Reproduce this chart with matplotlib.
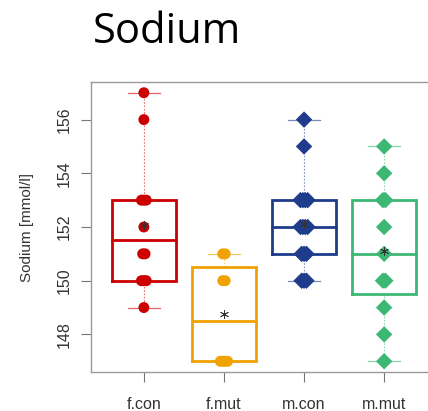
import matplotlib
matplotlib.use("Agg")
import matplotlib.pyplot as plt
import numpy as np
from collections import Counter

groups = ["f.con", "f.mut", "m.con", "m.mut"]
values = {
    "f.con": [149, 150, 150, 150, 151, 151, 152, 153, 153, 153, 156, 157],
    "f.mut": [147, 147, 147, 147, 150, 150, 151, 151],
    "m.con": [150, 150, 150, 151, 151, 151, 152, 152, 152, 152, 153, 153, 153, 153, 155, 156],
    "m.mut": [147, 148, 149, 150, 150, 151, 152, 153, 153, 154, 155],
}
colors = ["#CC0000", "#F0A202", "#1F3C8C", "#3DB874"]
markers = ["o", "o", "D", "D"]
yticks = [148, 150, 152, 154, 156]

DPI = 100
fig = plt.figure(figsize=(4.28, 4.11), dpi=DPI)
W, H = 428, 411
ax_l, ax_r, ax_t, ax_b = 91, 437, 82, 372
ax = fig.add_axes([ax_l / W, 1 - ax_b / H, (ax_r - ax_l) / W, (ax_b - ax_t) / H])

def fivenum(x):
    x = np.sort(np.asarray(x, float))
    n = len(x)
    n4 = np.floor((n + 3) / 2) / 2
    d = np.array([1, n4, (n + 1) / 2, n + 1 - n4, n])
    return 0.5 * (x[np.floor(d).astype(int) - 1] + x[np.ceil(d).astype(int) - 1])

bw = 0.8
for i, g in enumerate(groups):
    pos = i + 1
    c = colors[i]
    v = np.array(values[g])
    mn, q1, med, q3, mx = fivenum(v)
    iqr = q3 - q1
    lo = v[v >= q1 - 1.5 * iqr].min()
    hi = v[v <= q3 + 1.5 * iqr].max()
    # whiskers
    ax.plot([pos, pos], [q3, hi], ls=(0, (1.5, 1.5)), lw=0.8, color=c, alpha=0.55, zorder=1)
    ax.plot([pos, pos], [lo, q1], ls=(0, (1.5, 1.5)), lw=0.8, color=c, alpha=0.55, zorder=1)
    # caps
    ax.plot([pos - bw / 4, pos + bw / 4], [hi, hi], lw=0.9, color=c, alpha=0.6, zorder=1)
    ax.plot([pos - bw / 4, pos + bw / 4], [lo, lo], lw=0.9, color=c, alpha=0.6, zorder=1)
    # box
    ax.plot([pos - bw / 2, pos + bw / 2, pos + bw / 2, pos - bw / 2, pos - bw / 2],
            [q1, q1, q3, q3, q1], lw=2.0, color=c, zorder=2, solid_joinstyle="miter")
    ax.plot([pos - bw / 2, pos + bw / 2], [med, med], lw=2.0, color=c, zorder=2)
    # points with deterministic spreading of duplicates
    cnt = Counter(v.tolist())
    xs, ys = [], []
    for val, k in cnt.items():
        offs = (np.arange(k) - (k - 1) / 2) * 0.03
        xs.extend(pos + offs)
        ys.extend([val] * k)
    if markers[i] == "o":
        ax.scatter(xs, ys, s=62, marker="o", color=c, edgecolors="none", zorder=3)
    else:
        ax.scatter(xs, ys, s=70, marker="D", color=c, edgecolors="none", zorder=3)
    # mean
    ax.scatter([pos], [v.mean()], s=36, marker=(6, 2, 0), color="#333333", linewidths=0.6, zorder=4)

ax.set_xlim(0.34, 4.66)
ax.set_ylim(146.6, 157.4)
ax.set_xticks([1, 2, 3, 4])
ax.set_xticklabels(groups, family="Liberation Sans", fontsize=11.5, color="#333333")
ax.set_yticks(yticks)
ax.set_yticklabels([str(t) for t in yticks], family="Liberation Sans", fontsize=11.5,
                   color="#333333", rotation=90, va="center")
ax.tick_params(axis="both", direction="out", length=7, width=0.8, color="#777777")
ax.tick_params(axis="y", pad=7)
ax.tick_params(axis="x", pad=11)
for s in ax.spines.values():
    s.set_color("#999999")
    s.set_linewidth(1.0)
ax.set_ylabel("Sodium [mmol/l]", family="Liberation Sans", fontsize=11, color="#333333", labelpad=16)

fig.text(93 / W, 1 - 43 / H, "Sodium", family="Open Sans", fontsize=30, color="black",
         ha="left", va="baseline")

fig.savefig("out.png", dpi=DPI)
